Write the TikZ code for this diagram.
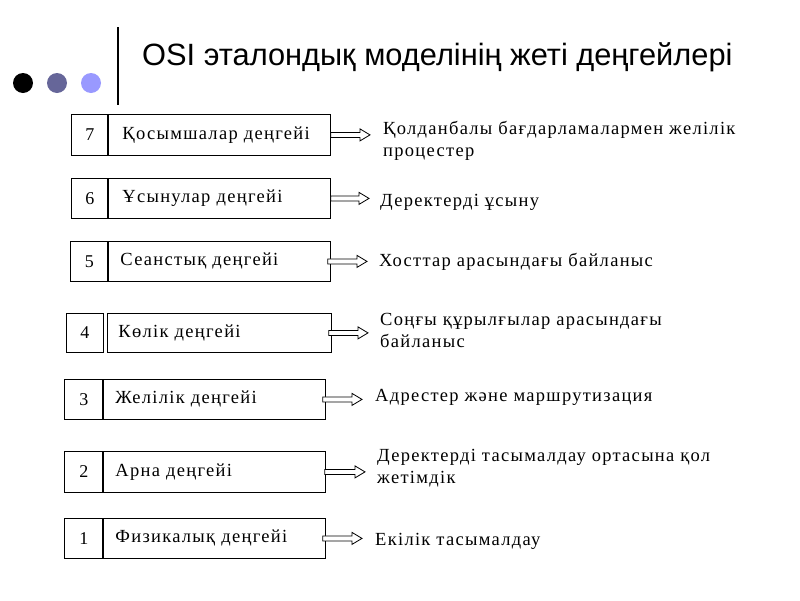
\documentclass[tikz,border=0pt]{standalone}
\usepackage{fontspec}
\setmainfont{Liberation Serif}
\newfontfamily\titlefont{Liberation Sans}
\newfontfamily\boxfont[LetterSpace=7]{Liberation Serif}
\usetikzlibrary{calc}
\definecolor{dotmid}{RGB}{102,102,153}
\definecolor{dotlight}{RGB}{153,153,255}
\begin{document}
\begin{tikzpicture}[x=1pt,y=-1pt,
  lay/.style={draw, line width=0.8pt, anchor=north west, align=left, inner ysep=0pt,
    font=\boxfont\fontsize{18.5}{21}\selectfont},
  num/.style={draw, line width=0.8pt, anchor=north west, inner sep=0pt,
    font=\boxfont\fontsize{18}{21}\selectfont},
  divider/.style={line width=2pt},
  lbl/.style={anchor=west, align=left, inner sep=0pt,
    font=\boxfont\fontsize{18.5}{22}\selectfont},
  dot/.style={circle, inner sep=0pt, minimum size=20pt},
  hollow/.style={draw, fill=white, line width=0.8pt,
    to path={let \p1=(\tikztostart), \p2=(\tikztotarget) in
      (\x1,\y1+2.5pt) -- (\x2-10pt,\y1+2.5pt) -- (\x2-10pt,\y1+6pt) -- (\x2,\y1)
      -- (\x2-10pt,\y1-6pt) -- (\x2-10pt,\y1-2.5pt) -- (\x1,\y1-2.5pt) -- cycle}}
]
\useasboundingbox (0,0) rectangle (800,600);

% title
\node[dot, fill=black] (d1) at (23,83) {};
\node[dot, fill=dotmid] (d2) at (57,83) {};
\node[dot, fill=dotlight] (d3) at (91,83) {};
\draw[line width=2.5pt] (118,27) -- (118,105);
\node[anchor=base west, inner sep=0pt, font=\titlefont\fontsize{30.8}{36}\selectfont] (title) at (142,65)
  {OSI эталондық моделінің жеті деңгейлері};

% row 7
\node[num, minimum width=37pt, minimum height=41pt] (n7) at (71,114) {7};
\node[lay, minimum height=41pt, inner xsep=14pt, text width=194pt] (l7) at (108,114) {Қосымшалар деңгейі};
\draw[divider] (l7.north west) -- (l7.south west);
% row 6
\node[num, minimum width=37pt, minimum height=40pt] (n6) at (71,178) {6};
\node[lay, minimum height=40pt, inner xsep=14pt, text width=194pt] (l6) at (108,178) {Ұсынулар деңгейі};
\draw[divider] (l6.north west) -- (l6.south west);
% row 5
\node[num, minimum width=38pt, minimum height=40pt] (n5) at (70,241) {5};
\node[lay, minimum height=40pt, inner xsep=12pt, text width=198pt] (l5) at (108,241) {Сеанстық деңгейі};
\draw[divider] (l5.north west) -- (l5.south west);
% row 4
\node[num, minimum width=37pt, minimum height=39pt] (n4) at (66,313) {4};
\node[lay, minimum height=39pt, inner xsep=11pt, text width=202pt] (l4) at (107,313) {Көлік деңгейі};
% row 3
\node[num, minimum width=39pt, minimum height=40pt] (n3) at (64,379) {3};
\node[lay, minimum height=40pt, inner xsep=12pt, text width=198pt] (l3) at (103,379) {Желілік деңгейі};
\draw[divider] (l3.north west) -- (l3.south west);
% row 2
\node[num, minimum width=39pt, minimum height=41pt] (n2) at (64,451) {2};
\node[lay, minimum height=41pt, inner xsep=12pt, text width=198pt] (l2) at (103,451) {Арна деңгейі};
\draw[divider] (l2.north west) -- (l2.south west);
% row 1
\node[num, minimum width=39pt, minimum height=40pt] (n1) at (64,518) {1};
\node[lay, minimum height=40pt, inner xsep=12pt, text width=198pt] (l1) at (103,518) {Физикалық деңгейі};
\draw[divider] (l1.north west) -- (l1.south west);

% descriptions
\node[lbl] (t7) at (383,141) {Қолданбалы бағдарламалармен желілік\\процестер};
\node[lbl] (t6) at (380,202) {Деректерді ұсыну};
\node[lbl] (t5) at (379,262) {Хосттар арасындағы байланыс};
\node[lbl] (t4) at (380,330) {Соңғы құрылғылар арасындағы\\байланыс};
\node[lbl] (t3) at (375,397) {Адрестер және маршрутизация};
\node[lbl] (t2) at (377,468) {Деректерді тасымалдау ортасына қол\\жетімдік};
\node[lbl] (t1) at (375,541) {Екілік тасымалдау};

% arrow tips
\coordinate (a7) at (370,134);
\coordinate (a6) at (369,200);
\coordinate (a5) at (367,261);
\coordinate (a4) at (368,332);
\coordinate (a3) at (362,399);
\coordinate (a2) at (365,471);
\coordinate (a1) at (362,538);

\draw[hollow] (l7.east) to (a7);
\draw[hollow] (l6.east) to (a6);
\draw[hollow] ([xshift=-3pt]l5.east) to (a5);
\draw[hollow] ([xshift=-3pt]l4.east) to (a4);
\draw[hollow] ([xshift=-3pt]l3.east) to (a3);
\draw[hollow] ([xshift=-1pt]l2.east) to (a2);
\draw[hollow] ([xshift=-3pt]l1.east) to (a1);
\end{tikzpicture}
\end{document}
